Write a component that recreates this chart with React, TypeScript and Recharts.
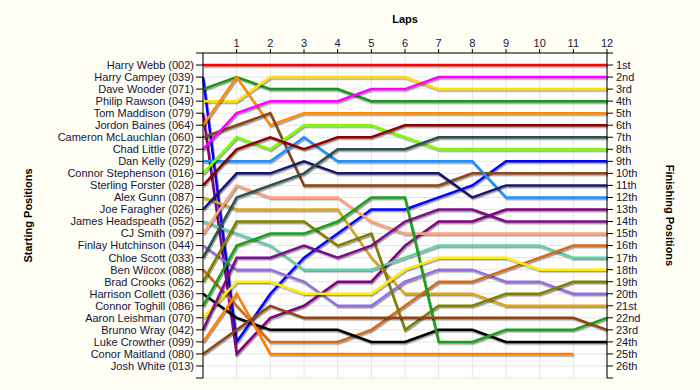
import { CartesianGrid, Line, LineChart, XAxis, YAxis } from "recharts";

const laps = [0, 1, 2, 3, 4, 5, 6, 7, 8, 9, 10, 11, 12];
const lapTicks = [1, 2, 3, 4, 5, 6, 7, 8, 9, 10, 11, 12];
const positionTicks = Array.from({ length: 28 }, (_, i) => i);

const startNames = [
  "Harry Webb (002)",
  "Harry Campey (039)",
  "Dave Wooder (071)",
  "Philip Rawson (049)",
  "Tom Maddison (079)",
  "Jordon Baines (064)",
  "Cameron McLauchlan (060)",
  "Chad Little (072)",
  "Dan Kelly (029)",
  "Connor Stephenson (016)",
  "Sterling Forster (028)",
  "Alex Gunn (087)",
  "Joe Faragher (026)",
  "James Headspeath (052)",
  "CJ Smith (097)",
  "Finlay Hutchinson (044)",
  "Chloe Scott (033)",
  "Ben Wilcox (088)",
  "Brad Crooks (062)",
  "Harrison Collett (036)",
  "Connor Toghill (086)",
  "Aaron Leishman (070)",
  "Brunno Wray (042)",
  "Luke Crowther (099)",
  "Conor Maitland (080)",
  "Josh White (013)",
];

const finishLabels = [
  "1st", "2nd", "3rd", "4th", "5th", "6th", "7th", "8th", "9th", "10th",
  "11th", "12th", "13th", "14th", "15th", "16th", "17th", "18th", "19th",
  "20th", "21st", "22nd", "23rd", "24th", "25th", "26th",
];

// position after each lap (lap 0 = grid)
const webb = [1, 1, 1, 1, 1, 1, 1, 1, 1, 1, 1, 1, 1];
const campey = [2, 24, 20, 17, 15, 13, 13, 12, 11, 9, 9, 9, 9];
const wooder = [3, 2, 3, 3, 3, 4, 4, 4, 4, 4, 4, 4, 4];
const rawson = [4, 4, 2, 2, 2, 2, 2, 3, 3, 3, 3, 3, 3];
const maddison = [5, 25, 22, 21, 19, 19, 16, 14, 14, 13, 13, 13, 13];
const baines = [6, 2, 6, 5, 5, 5, 5, 5, 5, 5, 5, 5, 5];
const mclauchlan = [7, 6, 5, 11, 11, 11, 11, 11, 10, 10, 10, 10, 10];
const little = [8, 5, 4, 4, 4, 3, 3, 2, 2, 2, 2, 2, 2];
const kelly = [9, 9, 9, 7, 9, 9, 9, 9, 9, 12, 12, 12, 12];
const stephenson = [10, 7, 8, 6, 6, 6, 7, 8, 8, 8, 8, 8, 8];
const forster = [11, 8, 7, 8, 7, 7, 6, 6, 6, 6, 6, 6, 6];
const gunn = [12, 13, 13, 13, 13, 17, 20, 20, 20, 21, 21, 21, 21];
const faragher = [13, 10, 10, 9, 10, 10, 10, 10, 12, 11, 11, 11, 11];
const headspeath = [14, 15, 16, 18, 18, 18, 17, 16, 16, 16, 16, 17, 17];
const smith = [15, 11, 12, 12, 12, 14, 15, 15, 15, 15, 15, 15, 15];
const hutchinson = [16, 18, 18, 19, 21, 21, 19, 18, 18, 19, 19, 20, 20];
const scott = [17, 12, 11, 10, 8, 8, 8, 7, 7, 7, 7, 7, 7];
const wilcox = [18, 21, 24, 24, 24, 23, 21, 19, 19, 18, 17, 16, 16];
const crooks = [19, 14, 14, 14, 16, 15, 23, 21, 21, 20, 20, 19, 19];
const collett = [20, 22, 23, 23, 23, 24, 24, 23, 23, 24, 24, 24, 24];
const toghill = [21, 16, 15, 15, 14, 12, 12, 24, 24, 23, 23, 23, 22];
const leishman = [22, 19, 19, 20, 20, 20, 18, 17, 17, 17, 18, 18, 18];
const wray = [23, 17, 17, 16, 17, 16, 14, 13, 13, 14, 14, 14, 14];
const crowther = [24, 20, 25, 25, 25, 25, 25, 25, 25, 25, 25, 25, null];
const maitland = [25, 23, 21, 22, 22, 22, 22, 22, 22, 22, 22, 22, 23];

const series = [
  { key: "webb", values: webb, color: "#ff0000" },
  { key: "campey", values: campey, color: "#0000ff" },
  { key: "wooder", values: wooder, color: "#129912" },
  { key: "rawson", values: rawson, color: "#ffe000" },
  { key: "maddison", values: maddison, color: "#800080" },
  { key: "baines", values: baines, color: "#ff8c00" },
  { key: "mclauchlan", values: mclauchlan, color: "#8b4513" },
  { key: "little", values: little, color: "#ff00ff" },
  { key: "kelly", values: kelly, color: "#1e90ff" },
  { key: "stephenson", values: stephenson, color: "#7cfc00" },
  { key: "forster", values: forster, color: "#8b0000" },
  { key: "gunn", values: gunn, color: "#daa520" },
  { key: "faragher", values: faragher, color: "#191970" },
  { key: "headspeath", values: headspeath, color: "#66cdaa" },
  { key: "smith", values: smith, color: "#ffa07a" },
  { key: "hutchinson", values: hutchinson, color: "#9370db" },
  { key: "scott", values: scott, color: "#2f4f4f" },
  { key: "wilcox", values: wilcox, color: "#d2691e" },
  { key: "crooks", values: crooks, color: "#808000" },
  { key: "collett", values: collett, color: "#000000" },
  { key: "toghill", values: toghill, color: "#1aa01a" },
  { key: "leishman", values: leishman, color: "#ffee00" },
  { key: "wray", values: wray, color: "#7a0a8a" },
  { key: "crowther", values: crowther, color: "#ff7f00" },
  { key: "maitland", values: maitland, color: "#8b4513" },
];

const data = laps.map((lap, i) => {
  const row: Record<string, number | null> = { lap };
  series.forEach((s) => (row[s.key] = s.values[i]));
  return row;
});

const font = "'Liberation Sans', Arial, sans-serif";
const labelColor = "#14143c";

function SideTitle(props: any) {
  const { viewBox, text, side } = props;
  const cx = side === "left" ? viewBox.x + 28 : viewBox.x + viewBox.width - 30;
  const cy = viewBox.y + viewBox.height / 2;
  return (
    <text
      x={cx}
      y={cy}
      transform={`rotate(${side === "left" ? -90 : 90}, ${cx}, ${cy})`}
      textAnchor="middle"
      dominantBaseline="central"
      fontWeight="bold"
      fontSize={11}
      fontFamily={font}
      fill="#000"
    >
      {text}
    </text>
  );
}

function TopTitle(props: any) {
  const { viewBox } = props;
  return (
    <text
      x={viewBox.x + viewBox.width / 2}
      y={23}
      textAnchor="middle"
      fontWeight="bold"
      fontSize={11}
      fontFamily={font}
      fill="#000"
    >
      Laps
    </text>
  );
}

export default function App() {
  return (
    <div
      style={{
        position: "absolute",
        left: 0,
        top: 0,
        width: 700,
        height: 390,
        background: "#fefef4",
        fontFamily: font,
      }}
    >
      <svg width={0} height={0} style={{ position: "absolute" }}>
        <defs>
          <filter
            id="lineShadow"
            filterUnits="userSpaceOnUse"
            x="0"
            y="0"
            width="700"
            height="390"
          >
            <feDropShadow dx="1" dy="1.5" stdDeviation="0.6" floodColor="#000" floodOpacity="0.4" />
          </filter>
        </defs>
      </svg>
      <LineChart
        width={700}
        height={390}
        data={data}
        margin={{ top: 0, right: 0, bottom: 12, left: 0 }}
        style={{ fontFamily: font }}
      >
        <CartesianGrid yAxisId="left" stroke="#e4e4e4" fill="#ffffff" />
        <XAxis
          dataKey="lap"
          type="number"
          orientation="top"
          domain={[0, 12]}
          ticks={lapTicks}
          interval={0}
          height={53}
          tickSize={4}
          stroke="#000"
          tick={{ fill: labelColor, fontSize: 11 }}
          label={<TopTitle />}
        />
        <YAxis
          yAxisId="left"
          type="number"
          domain={[0, 27]}
          reversed
          ticks={positionTicks}
          interval={0}
          width={203}
          tickSize={7}
          tickMargin={2}
          stroke="#000"
          tick={{ fill: labelColor, fontSize: 11 }}
          tickFormatter={(v: number) => startNames[v - 1] ?? ""}
          label={<SideTitle text="Starting Positions" side="left" />}
        />
        <YAxis
          yAxisId="right"
          orientation="right"
          type="number"
          domain={[0, 27]}
          reversed
          allowDataOverflow
          ticks={positionTicks}
          interval={0}
          width={93}
          tickSize={6}
          tickMargin={3}
          stroke="#000"
          tick={{ fill: labelColor, fontSize: 11 }}
          tickFormatter={(v: number) => finishLabels[v - 1] ?? ""}
          label={<SideTitle text="Finishing Positions" side="right" />}
        />
        {series.map((s) => (
          <Line
            key={s.key}
            yAxisId="left"
            type="linear"
            dataKey={s.key}
            stroke={s.color}
            strokeWidth={2.5}
            dot={false}
            activeDot={false}
            isAnimationActive={false}
            filter="url(#lineShadow)"
          />
        ))}
      </LineChart>
    </div>
  );
}
